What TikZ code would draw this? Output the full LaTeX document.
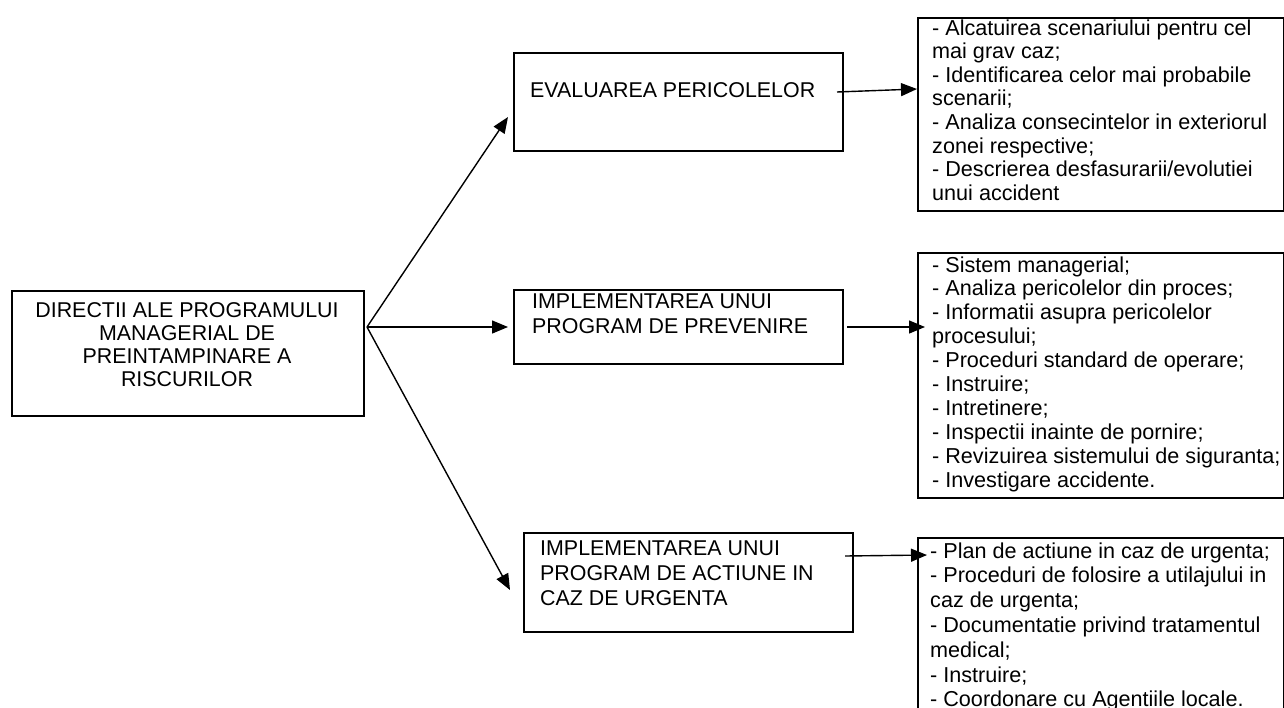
\documentclass[tikz,border=0pt]{standalone}
\usepackage{fontspec}
\setmainfont{Liberation Sans}
\usetikzlibrary{arrows.meta}
\begin{document}
\begin{tikzpicture}[x=1pt,y=-1pt,
  box/.style={draw, line width=2pt, inner sep=0pt, anchor=north west},
  txt/.style={inner sep=0pt, anchor=base west, align=left},
  con/.style={line width=1.4pt, -{Triangle[length=16pt,width=13pt]}}]
\useasboundingbox (0,0) rectangle (1284,707);
% boxes
\node[box, minimum width=352pt, minimum height=125pt] (main) at (11,290) {};
\node[box, minimum width=329pt, minimum height=98pt] (ev) at (513,52) {};
\node[box, minimum width=329pt, minimum height=74pt] (prev) at (513,289) {};
\node[box, minimum width=329pt, minimum height=99pt] (urg) at (523,532) {};
\node[box, minimum width=366pt, minimum height=193pt] (r1) at (917,17) {};
\node[box, minimum width=366pt, minimum height=245pt] (r2) at (917,252) {};
\node[box, minimum width=366pt, minimum height=190pt] (r3) at (917,537) {};
% texts (base anchor = baseline of the last line)
\node[inner sep=0pt, anchor=base, align=center, font=\fontsize{21.4}{23.3}\selectfont] (maint) at (187,386.9)
  {DIRECTII ALE PROGRAMULUI\\MANAGERIAL DE\\PREINTAMPINARE A\\RISCURILOR};
\node[txt, font=\fontsize{21.4}{25}\selectfont] (evt) at (530,97.7) {EVALUAREA PERICOLELOR};
\node[txt, font=\fontsize{21.4}{25.5}\selectfont] (prevt) at (532,333.5)
  {IMPLEMENTAREA UNUI\\PROGRAM DE PREVENIRE};
\node[txt, font=\fontsize{21.4}{25}\selectfont] (urgt) at (540,605)
  {IMPLEMENTAREA UNUI\\PROGRAM DE ACTIUNE IN\\CAZ DE URGENTA};
\node[txt, font=\fontsize{21.6}{23.6}\selectfont] (r1t) at (932,200.2)
  {- Alcatuirea scenariului pentru cel\\mai grav caz;\\- Identificarea celor mai probabile\\scenarii;\\- Analiza consecintelor in exteriorul\\zonei respective;\\- Descrierea desfasurarii/evolutiei\\unui accident};
\node[txt, font=\fontsize{21.6}{23.9}\selectfont] (r2t) at (932,487.1)
  {- Sistem managerial;\\- Analiza pericolelor din proces;\\- Informatii asupra pericolelor\\procesului;\\- Proceduri standard de operare;\\- Instruire;\\- Intretinere;\\- Inspectii inainte de pornire;\\- Revizuirea sistemului de siguranta;\\- Investigare accidente.};
\node[txt, font=\fontsize{21.6}{24.8}\selectfont] (r3t) at (930,706.8)
  {- Plan de actiune in caz de urgenta;\\- Proceduri de folosire a utilajului in\\caz de urgenta;\\- Documentatie privind tratamentul\\medical;\\- Instruire;\\- Coordonare cu Agentiile locale.};
% connector points
\coordinate (v) at (367,327);
\coordinate (evin) at (508,117);
\coordinate (previn) at (508,327);
\coordinate (urgin) at (510,590);
\coordinate (evout) at (837,92);
\coordinate (r1in) at (917,89);
\coordinate (prevout) at (847,327);
\coordinate (r2in) at (925,327);
\coordinate (urgout) at (845,556);
\coordinate (r3in) at (927,555);
% connectors
\draw[con] (v) -- (evin);
\draw[con] (v) -- (previn);
\draw[con] (v) -- (urgin);
\draw[con] (evout) -- (r1in);
\draw[con] (prevout) -- (r2in);
\draw[con] (urgout) -- (r3in);
\end{tikzpicture}
\end{document}
